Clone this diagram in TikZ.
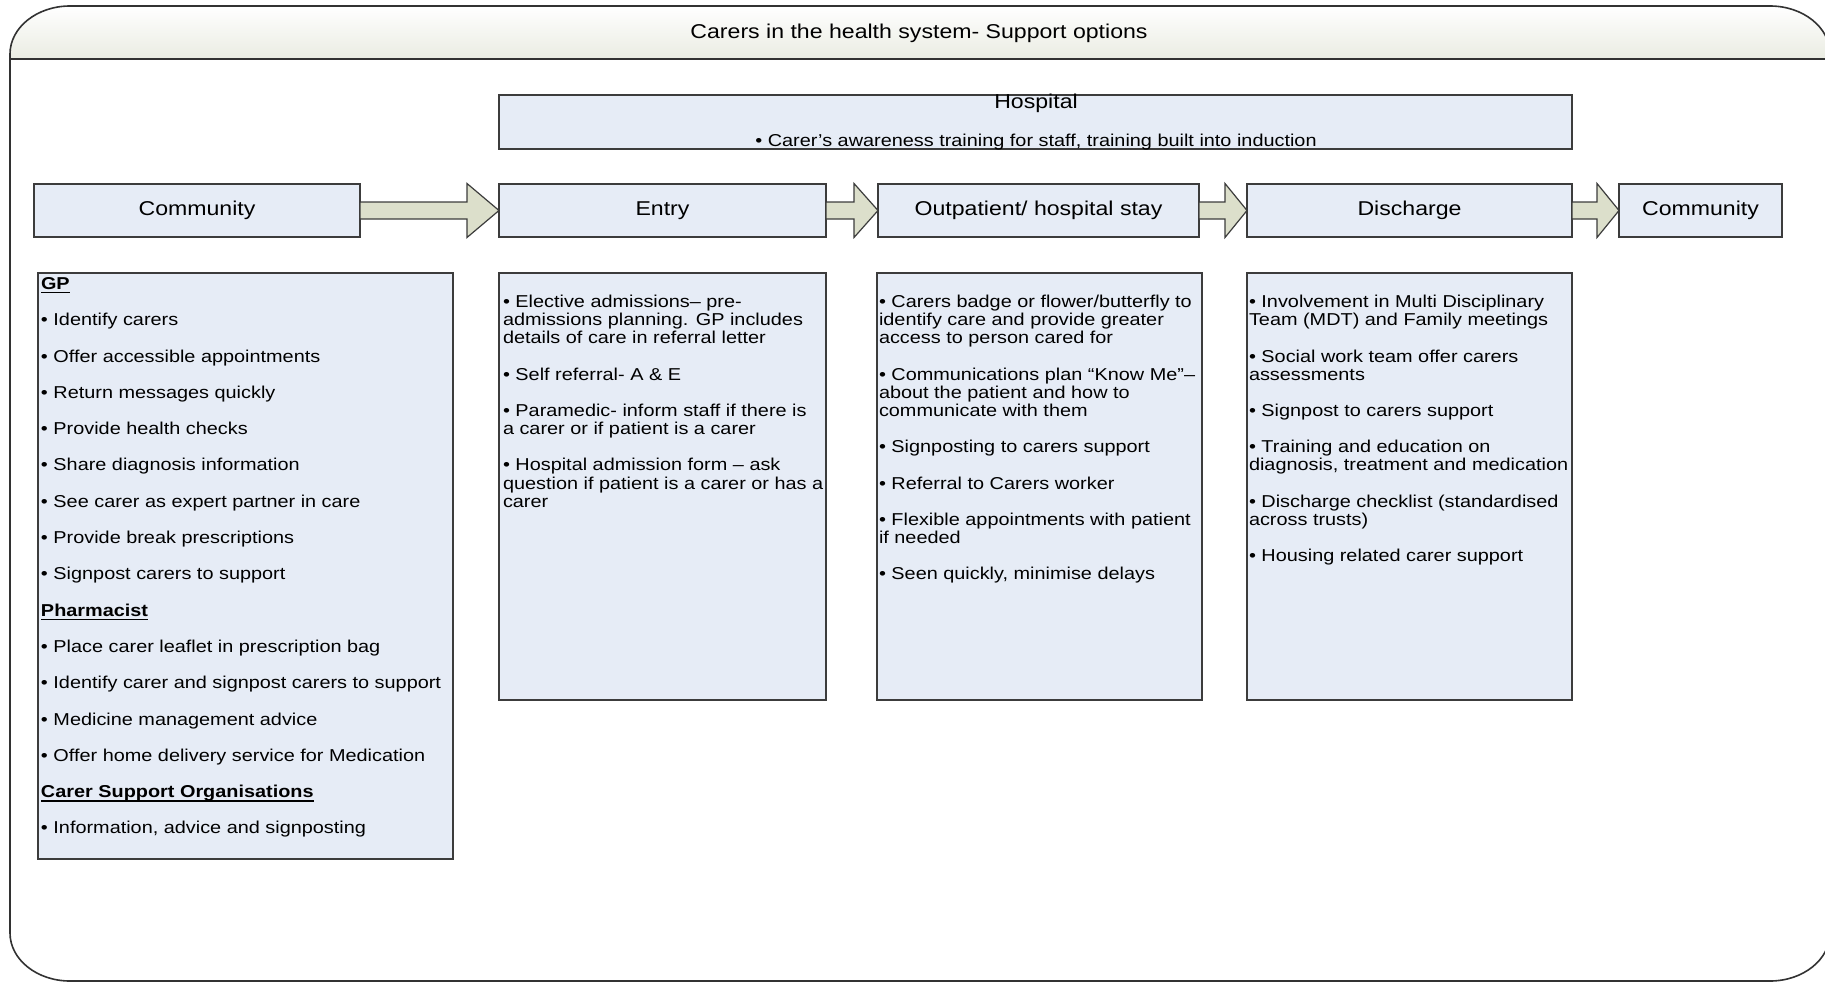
\documentclass[tikz,border=0pt]{standalone}
\usepackage{fontspec}
\setmainfont{Liberation Sans}[FakeStretch=1.155]
\usetikzlibrary{calc}
\definecolor{boxfill}{RGB}{230,236,246}
\definecolor{boxline}{RGB}{60,60,60}
\definecolor{arrowfill}{RGB}{220,223,203}
\definecolor{headtop}{RGB}{255,255,255}
\definecolor{headbot}{RGB}{234,236,226}
\definecolor{frameline}{RGB}{50,50,50}
\newcommand{\bodyfont}{\fontsize{17.2}{18.15}\selectfont}
\newcommand{\headfont}{\fontsize{20}{24}\selectfont}
\newcommand{\pgap}{\\[18.15pt]}
\newcommand{\firststrut}{\rule{0pt}{13pt}}
\newcommand{\bul}{•\ }
\newsavebox{\hdrbox}
\newcommand{\hdr}[1]{\sbox{\hdrbox}{\textbf{#1}}\rlap{\rule[-4pt]{\wd\hdrbox}{1.3pt}}\usebox{\hdrbox}}
\newcommand{\blockarr}[3]{%
  \draw[blockarrow] ($(#1.east)+(0,-8.5)$) -- ($(#2.west)+(-#3,-8.5)$) -- ($(#2.west)+(-#3,-27)$) -- (#2.west) -- ($(#2.west)+(-#3,27)$) -- ($(#2.west)+(-#3,8.5)$) -- ($(#1.east)+(0,8.5)$) -- cycle;}
\begin{document}
\begin{tikzpicture}[x=1pt,y=-1pt,
  box/.style={draw=boxline, fill=boxfill, line width=1.2pt, inner sep=0pt, outer sep=0pt, anchor=north west},
  stagebox/.style={box, font=\headfont, align=center, text height=14.5pt, text depth=4.2pt},
  listtext/.style={anchor=north west, inner sep=0pt, outer sep=0pt, align=left, font=\bodyfont},
  blockarrow/.style={draw=boxline, fill=arrowfill, line width=1.2pt, line join=miter},
  frame/.style={draw=frameline, line width=1.6pt}
]
\useasboundingbox (0,0) rectangle (1825,982);

% header band and frame
\fill[top color=headtop, bottom color=headbot] (10,59) -- (10,54) .. controls (10,27.5) and (36.9,6) .. (70,6) -- (1770,6) .. controls (1803.1,6) and (1830,27.5) .. (1830,54) -- (1830,59) -- cycle;
\draw[frame] (10,54) .. controls (10,27.5) and (36.9,6) .. (70,6) -- (1770,6) .. controls (1803.1,6) and (1830,27.5) .. (1830,54) -- (1830,933) .. controls (1830,959.5) and (1803.1,981) .. (1770,981) -- (70,981) .. controls (36.9,981) and (10,959.5) .. (10,933) -- cycle;
\draw[frame] (10,59) -- (1830,59);
\node[font=\headfont, anchor=base, inner sep=0pt] (title) at (919,39) {Carers in the health system- Support options};

% hospital box
\node[box, minimum width=1073pt, minimum height=54pt] (hosp) at (499,95) {};
\node[font=\headfont, anchor=base, inner sep=0pt] (hosptitle) at (1036,108) {Hospital};
\node[font=\bodyfont, anchor=base, inner sep=0pt] (hospitem) at (1036,146) {\bul Carer’s awareness training for staff, training built into induction};

% stage boxes
\node[stagebox, minimum width=326pt, minimum height=53pt] (comm1) at (34,184) {Community};
\node[stagebox, minimum width=327pt, minimum height=53pt] (entry) at (499,184) {Entry};
\node[stagebox, minimum width=321pt, minimum height=53pt] (outp) at (878,184) {Outpatient/ hospital stay};
\node[stagebox, minimum width=325pt, minimum height=53pt] (disch) at (1247,184) {Discharge};
\node[stagebox, minimum width=163pt, minimum height=53pt] (comm2) at (1619,184) {Community};

% block arrows
\blockarr{comm1}{entry}{32}
\blockarr{entry}{outp}{24}
\blockarr{outp}{disch}{22}
\blockarr{disch}{comm2}{22}

% content boxes
\node[box, minimum width=415pt, minimum height=586pt] (gpbox) at (38,273) {};
\node[box, minimum width=327pt, minimum height=427pt] (entrybox) at (499,273) {};
\node[box, minimum width=325pt, minimum height=427pt] (outbox) at (877,273) {};
\node[box, minimum width=325pt, minimum height=427pt] (dischbox) at (1247,273) {};

\node[listtext] (gptext) at ($(gpbox.north west)+(3,3.4)$) {%
\firststrut\hdr{GP}\pgap
\bul Identify carers\pgap
\bul Offer accessible appointments\pgap
\bul Return messages quickly\pgap
\bul Provide health checks\pgap
\bul Share diagnosis information\pgap
\bul See carer as expert partner in care\pgap
\bul Provide break prescriptions\pgap
\bul Signpost carers to support\pgap
\hdr{Pharmacist}\pgap
\bul Place carer leaflet in prescription bag\pgap
\bul Identify carer and signpost carers to support\pgap
\bul Medicine management advice\pgap
\bul Offer home delivery service for Medication\pgap
\hdr{Carer Support Organisations}\pgap
\bul Information, advice and signposting};

\node[listtext] (entrytext) at ($(entrybox.north west)+(4,21.55)$) {%
\firststrut\bul Elective admissions– pre-\\
admissions planning. GP includes\\
details of care in referral letter\pgap
\bul Self referral- A \& E\pgap
\bul Paramedic- inform staff if there is\\
a carer or if patient is a carer\pgap
\bul Hospital admission form – ask\\
question if patient is a carer or has a\\
carer};

\node[listtext] (outtext) at ($(outbox.north west)+(2,21.55)$) {%
\firststrut\bul Carers badge or flower/butterfly to\\
identify care and provide greater\\
access to person cared for\pgap
\bul Communications plan “Know Me”–\\
about the patient and how to\\
communicate with them\pgap
\bul Signposting to carers support\pgap
\bul Referral to Carers worker\pgap
\bul Flexible appointments with patient\\
if needed\pgap
\bul Seen quickly, minimise delays};

\node[listtext] (dischtext) at ($(dischbox.north west)+(2,21.55)$) {%
\firststrut\bul Involvement in Multi Disciplinary\\
Team (MDT) and Family meetings\pgap
\bul Social work team offer carers\\
assessments\pgap
\bul Signpost to carers support\pgap
\bul Training and education on\\
diagnosis, treatment and medication\pgap
\bul Discharge checklist (standardised\\
across trusts)\pgap
\bul Housing related carer support};
\end{tikzpicture}
\end{document}
